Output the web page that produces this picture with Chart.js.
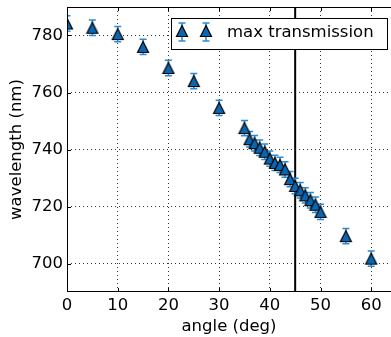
<!DOCTYPE html>
<html>
<head>
<meta charset="utf-8">
<script src="https://cdn.jsdelivr.net/npm/chart.js@4.4.0/dist/chart.umd.min.js"></script>
<style>
  html, body { margin: 0; padding: 0; background: #fff; }
  #wrap { width: 391px; height: 337px; }
</style>
</head>
<body>
<div id="wrap"><canvas id="c" width="391" height="337"></canvas></div>
<script>
const angles = [0, 5, 10, 15, 20, 25, 30, 35, 36, 37, 38, 39, 40, 41, 42, 43, 44, 45, 46, 47, 48, 49, 50, 55, 60];
const wavelengths = [784.2, 782.7, 780.5, 776.0, 768.6, 764.0, 754.6, 747.5, 743.6, 742.2, 740.6, 739.2, 736.8, 735.3, 734.6, 733.0, 729.6, 727.2, 725.7, 723.9, 722.2, 720.6, 718.1, 709.6, 701.7];
const errors = [2.7, 2.7, 2.7, 2.7, 2.7, 2.7, 2.7, 2.7, 2.7, 2.7, 2.7, 2.7, 2.7, 2.7, 2.7, 2.7, 2.7, 2.7, 2.7, 2.7, 2.7, 2.7, 2.7, 2.7, 2.7];
const xTicks = [0, 10, 20, 30, 40, 50, 60];
const yTicks = [700, 720, 740, 760, 780];
const cutAngle = 45;
const seriesLabel = 'max transmission';

const FONT = '"DejaVu Sans", sans-serif';
const fill = '#0a66b0';
const errColor = '#2b8ad2';

// matplotlib-like '^' marker (box centred on the point)
function makeTriangle() {
    let c = document.createElement('canvas');
    c.width = 14; c.height = 14;
    let g = c.getContext('2d');
    g.beginPath();
    g.moveTo(7, 1.5);
    g.lineTo(12.5, 12.5);
    g.lineTo(1.5, 12.5);
    g.closePath();
    g.fillStyle = fill;
    g.fill();
    g.lineWidth = 1.2;
    g.strokeStyle = '#000';
    g.stroke();
    return c;
}
const tri = makeTriangle();

function drawErr(ctx, px, yTop, yBot) {
    ctx.beginPath();
    ctx.moveTo(px, yTop); ctx.lineTo(px, yBot);
    ctx.moveTo(px - 3.5, yTop); ctx.lineTo(px + 3.5, yTop);
    ctx.moveTo(px - 3.5, yBot); ctx.lineTo(px + 3.5, yBot);
    ctx.stroke();
}

const framePlugin = {
    id: 'frame',
    beforeDatasetsDraw(chart) {
        const {ctx, chartArea: a, scales: {x, y}} = chart;
        ctx.save();
        ctx.beginPath();
        ctx.rect(a.left, a.top, a.right - a.left, a.bottom - a.top);
        ctx.clip();
        // vertical line
        let vx = x.getPixelForValue(cutAngle);
        ctx.strokeStyle = '#000';
        ctx.lineWidth = 2;
        ctx.beginPath();
        ctx.moveTo(vx, a.top); ctx.lineTo(vx, a.bottom);
        ctx.stroke();
        // error bars
        ctx.strokeStyle = errColor;
        ctx.lineWidth = 1.5;
        for (let i = 0; i < angles.length; i++) {
            let px = x.getPixelForValue(angles[i]);
            drawErr(ctx, px, y.getPixelForValue(wavelengths[i] + errors[i]), y.getPixelForValue(wavelengths[i] - errors[i]));
        }
        ctx.restore();
    },
    afterDatasetsDraw(chart) {
        const {ctx, chartArea: a, scales: {x, y}} = chart;
        ctx.save();
        ctx.strokeStyle = '#000';
        ctx.lineWidth = 1;
        ctx.beginPath();
        ctx.moveTo(a.left + 0.5, a.top); ctx.lineTo(a.left + 0.5, a.bottom);
        ctx.moveTo(a.left, a.top + 0.5); ctx.lineTo(a.right, a.top + 0.5);
        ctx.moveTo(a.left, a.bottom - 0.5); ctx.lineTo(a.right, a.bottom - 0.5);
        // inward ticks
        xTicks.forEach(v => {
            let px = Math.round(x.getPixelForValue(v)) + 0.5;
            ctx.moveTo(px, a.bottom); ctx.lineTo(px, a.bottom - 4);
            ctx.moveTo(px, a.top); ctx.lineTo(px, a.top + 4);
        });
        yTicks.forEach(v => {
            let py = Math.round(y.getPixelForValue(v)) + 0.5;
            ctx.moveTo(a.left, py); ctx.lineTo(a.left + 4, py);
        });
        ctx.stroke();

        // legend
        const lx = 171, ly = 18, lw = 216, lh = 31;
        ctx.fillStyle = '#fff';
        ctx.fillRect(lx, ly, lw, lh);
        ctx.strokeRect(lx + 0.5, ly + 0.5, lw, lh);
        ctx.strokeStyle = errColor;
        ctx.lineWidth = 1.5;
        [182, 206].forEach(mx => {
            drawErr(ctx, mx, ly + 5, ly + 23);
            ctx.drawImage(tri, mx - 7, ly + 6);
        });
        ctx.fillStyle = '#000';
        ctx.font = '16.5px ' + FONT;
        ctx.textBaseline = 'middle';
        ctx.fillText(seriesLabel, 227, ly + 15);
        ctx.restore();
    }
};

const data = {
    datasets: [{
        label: seriesLabel,
        data: angles.map((a, i) => ({x: a, y: wavelengths[i]})),
        pointStyle: tri,
        pointRadius: 7,
        clip: 0,
        showLine: false
    }]
};

const config = {
    type: 'scatter',
    data: data,
    options: {
        responsive: false,
        animation: false,
        events: [],
        layout: {autoPadding: false, padding: {left: 0, top: 7, right: 0, bottom: 0}},
        plugins: {legend: {display: false}, tooltip: {enabled: false}},
        scales: {
            x: {
                type: 'linear',
                min: 0,
                max: 63.9,
                afterBuildTicks: s => { s.ticks = xTicks.map(v => ({value: v})); },
                afterFit: s => { s.height = 45; s.paddingLeft = 0; s.paddingRight = 0; },
                border: {display: false, dash: [1, 3]},
                grid: {color: 'rgba(0,0,0,0.8)', lineWidth: 1, drawTicks: false},
                ticks: {color: '#000', font: {family: FONT, size: 16.5}, padding: 4, maxRotation: 0},
                title: {display: true, text: 'angle (deg)', color: '#000', font: {family: FONT, size: 16.5}, padding: {top: 0, bottom: 0}}
            },
            y: {
                type: 'linear',
                min: 690,
                max: 790,
                afterBuildTicks: s => { s.ticks = yTicks.map(v => ({value: v})); },
                afterFit: s => { s.width = 67; s.paddingTop = 0; s.paddingBottom = 0; },
                border: {display: false, dash: [1, 3]},
                grid: {color: 'rgba(0,0,0,0.8)', lineWidth: 1, drawTicks: false},
                ticks: {color: '#000', font: {family: FONT, size: 16.5}, padding: 4},
                title: {display: true, text: 'wavelength (nm)', color: '#000', font: {family: FONT, size: 16.5}, padding: {top: 7, bottom: 0}}
            }
        }
    },
    plugins: [framePlugin]
};

let ctx = document.getElementById('c').getContext('2d');
new Chart(ctx, config);
</script>
</body>
</html>
